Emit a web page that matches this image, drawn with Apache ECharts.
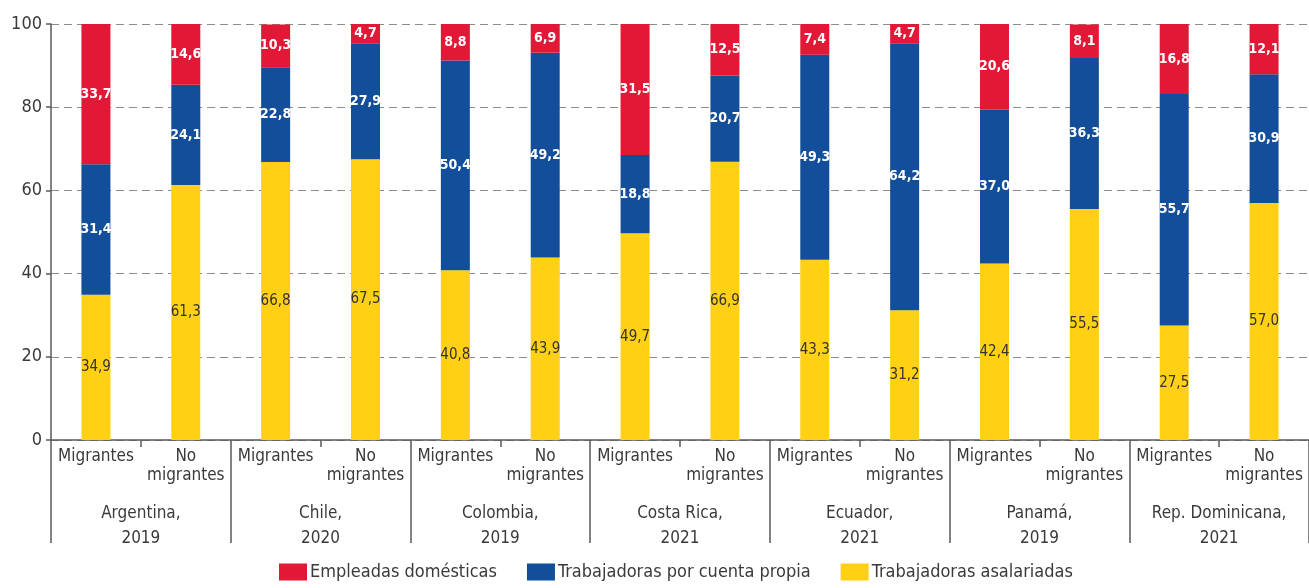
<!DOCTYPE html>
<html><head><meta charset="utf-8">
<script src="https://cdn.jsdelivr.net/npm/echarts@6/dist/echarts.min.js"></script>
<style>html,body{margin:0;padding:0;background:#fff}#c{width:1309px;height:588px}</style>
</head><body><div id="c"></div>
<script>
const groups = ['Argentina,\n2019','Chile,\n2020','Colombia,\n2019','Costa Rica,\n2021','Ecuador,\n2021','Panamá,\n2019','Rep. Dominicana,\n2021'];
const subCategories = ['Migrantes','No\nmigrantes','Migrantes','No\nmigrantes','Migrantes','No\nmigrantes','Migrantes','No\nmigrantes','Migrantes','No\nmigrantes','Migrantes','No\nmigrantes','Migrantes','No\nmigrantes'];
const seriesNames = ['Empleadas domésticas','Trabajadoras por cuenta propia','Trabajadoras asalariadas'];
const asalariadas = [34.9, 61.3, 66.8, 67.5, 40.8, 43.9, 49.7, 66.9, 43.3, 31.2, 42.4, 55.5, 27.5, 57.0];
const cuentaPropia = [31.4, 24.1, 22.8, 27.9, 50.4, 49.2, 18.8, 20.7, 49.3, 64.2, 37.0, 36.3, 55.7, 30.9];
const domesticas = [33.7, 14.6, 10.3, 4.7, 8.8, 6.9, 31.5, 12.5, 7.4, 4.7, 20.6, 8.1, 16.8, 12.1];
const yTicks = [0, 20, 40, 60, 80, 100];

const FONT = "'DejaVu Sans Condensed', 'Liberation Sans Narrow', 'Roboto', sans-serif";
const TXT = '#3a3a3a';
const AX = '#5a5a5a';
const fmt = p => p.value.toFixed(1).replace('.', ',');

function mkSeries(name, data, color, lblColor, bold) {
  return {
    name, type: 'bar', stack: 'total', data, barWidth: 29, xAxisIndex: 0,
    itemStyle: { color },
    label: { show: true, position: 'inside', formatter: fmt, color: lblColor,
      fontFamily: FONT, fontSize: bold ? 14 : 15, fontWeight: bold ? 'bold' : 'normal' }
  };
}

const chart = echarts.init(document.getElementById('c'), null, { renderer: 'canvas' });
chart.setOption({
  animation: false,
  textStyle: { fontFamily: FONT },
  grid: { left: 51, right: 0, top: 24, bottom: 148, containLabel: false },
  legend: {
    bottom: 2, left: 274, itemWidth: 28, itemHeight: 17, itemGap: 30,
    icon: 'rect', data: seriesNames,
    textStyle: { fontFamily: FONT, fontSize: 18, color: TXT, padding: [0,0,0,-2] }
  },
  xAxis: [
    { type: 'category', data: subCategories, position: 'bottom',
      axisLine: { show: true, lineStyle: { color: AX, width: 1.5 } },
      axisTick: { show: true, interval: 0, length: 7, lineStyle: { color: AX, width: 1.5 } },
      axisLabel: { interval: 0, margin: 7, fontFamily: FONT, fontSize: 17, color: TXT, lineHeight: 19, verticalAlign: 'top' } },
    { type: 'category', data: groups, position: 'bottom', offset: 0,
      axisLine: { show: false },
      axisTick: { show: true, interval: 0, length: 103, lineStyle: { color: AX, width: 1.5 } },
      axisLabel: { interval: 0, margin: 61, fontFamily: FONT, fontSize: 17, color: TXT, lineHeight: 25, verticalAlign: 'top' } }
  ],
  yAxis: {
    type: 'value', min: yTicks[0], max: yTicks[yTicks.length-1], interval: 20,
    axisLine: { show: true, lineStyle: { color: AX, width: 1.5 } },
    axisTick: { show: true, length: 5, lineStyle: { color: AX, width: 1.5 } },
    axisLabel: { margin: 9, fontFamily: FONT, fontSize: 18, color: TXT },
    splitLine: { show: true, lineStyle: { color: '#8c8c8c', type: [8, 5], width: 1 } }
  },
  series: [
    mkSeries(seriesNames[2], asalariadas, '#FFD014', '#333333', false),
    mkSeries(seriesNames[1], cuentaPropia, '#124E99', '#ffffff', true),
    mkSeries(seriesNames[0], domesticas, '#E31837', '#ffffff', true)
  ]
});
</script></body></html>
